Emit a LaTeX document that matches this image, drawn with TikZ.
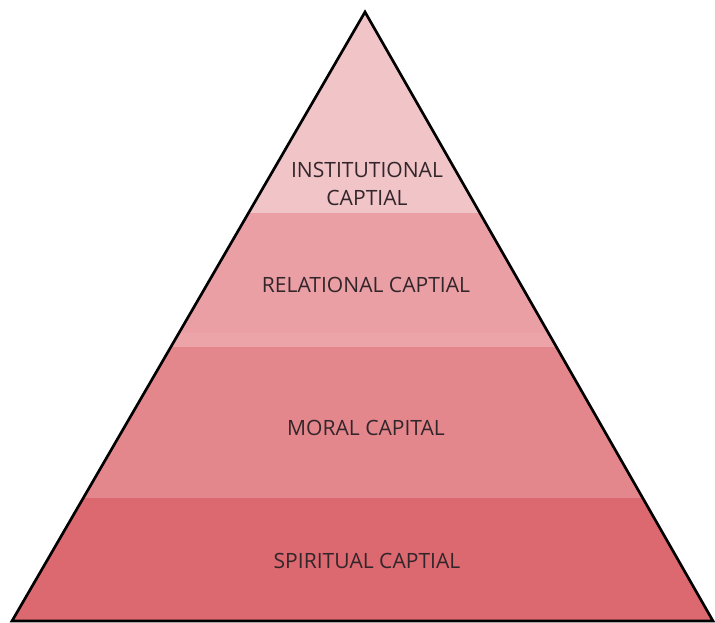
\documentclass[tikz,border=0pt]{standalone}
\usepackage{fontspec}
\setmainfont{Open Sans}
\definecolor{bandA}{HTML}{F1C4C8}
\definecolor{bandB}{HTML}{EA9FA5}
\definecolor{bandBs}{HTML}{ECA4A9}
\definecolor{bandC}{HTML}{E4878D}
\definecolor{bandD}{HTML}{DC6870}
\definecolor{txt}{HTML}{33262A}
\begin{document}
\begin{tikzpicture}[x=0.75pt,y=-0.75pt,
  lbl/.style={text=txt,font=\fontsize{15.8}{20.5}\selectfont,align=center,inner sep=0pt}]
\useasboundingbox (0,0) rectangle (715,623);
\coordinate (apex) at (365,12);
\coordinate (bl) at (12,621);
\coordinate (br) at (713,621);
\begin{scope}
  \clip (apex) -- (bl) -- (br) -- cycle;
  \fill[bandA] (0,0) rectangle (715,213);
  \fill[bandB] (0,213) rectangle (715,333);
  \fill[bandBs] (0,333) rectangle (715,347);
  \fill[bandC] (0,347) rectangle (715,498);
  \fill[bandD] (0,498) rectangle (715,623);
\end{scope}
\draw[line width=2pt,line join=miter] (apex) -- (bl) -- (br) -- cycle;
\node[lbl] (inst) at (367,184) {INSTITUTIONAL\\CAPTIAL};
\node[lbl] (rel) at (366,285) {RELATIONAL CAPTIAL};
\node[lbl] (mor) at (366,428) {MORAL CAPITAL};
\node[lbl] (spi) at (367,561) {SPIRITUAL CAPTIAL};
\end{tikzpicture}
\end{document}
